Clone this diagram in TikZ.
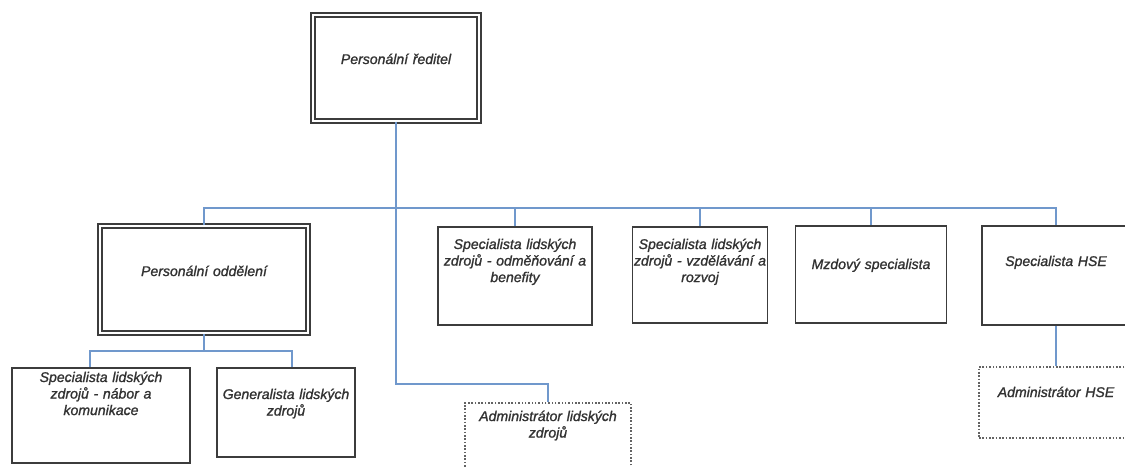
\documentclass[tikz,border=0pt]{standalone}
\usepackage{fontspec}
\setmainfont[ItalicFeatures={FakeBold=1.2}]{Liberation Sans}
\usepackage{tikz}
\usetikzlibrary{calc}
\definecolor{orgline}{RGB}{112,152,204}
\definecolor{orgtext}{RGB}{50,50,50}
\definecolor{orgframe}{RGB}{60,60,60}
\tikzset{
  %% ---- boxes ----
  post/.style    = {rectangle, draw=orgframe, line width=0.9pt,
                    fill=white, text width=#1, align=center,
                    inner sep=0pt, text=orgtext,
                    font=\fontsize{8}{9.4}\selectfont\itshape},
  post/.default  = 3cm,
  headpost/.style = {post=#1, double=white, double distance=1.6pt,
                    line width=0.7pt},
  headpost/.default = 3cm,
  adminpost/.style = {post=#1, draw=orgframe!80, densely dotted,
                    line width=0.9pt},
  adminpost/.default = 3cm,
  %% ---- connectors ----
  link/.style    = {draw=orgline, line width=0.8pt},
}
\begin{document}
\begin{tikzpicture}

  \path[use as bounding box, clip] (0,0) rectangle (22.5,-9.32);

  %% Director
  \node[headpost=3.32cm, text height=0.98cm, text depth=1.14cm]
    (dir) at (7.92,-1.36) {Personální ředitel};

  %% Second level
  \node[headpost=4.16cm, text height=1.0cm, text depth=1.14cm]
    (odd) at (4.08,-5.59) {Personální oddělení};
  \node[post=3.08cm, text height=0.44cm, text depth=1.52cm]
    (odm) at (10.3,-5.52) {Specialista lidských\\zdrojů - odměňování a\\benefity};
  \node[post=2.7cm, text height=0.44cm, text depth=1.48cm]
    (vzd) at (14.0,-5.5) {Specialista lidských\\zdrojů - vzdělávání a\\rozvoj};
  \node[post=3.02cm, text height=0.86cm, text depth=1.08cm]
    (mzd) at (17.42,-5.49) {Mzdový specialista};
  \node[post=2.96cm, text height=0.8cm, text depth=1.18cm]
    (hse) at (21.12,-5.51) {Specialista HSE};

  %% Third level
  \node[post=3.56cm, text height=0.28cm, text depth=1.62cm]
    (nab) at (2.02,-8.31) {Specialista lidských\\zdrojů - nábor a\\komunikace};
  \node[post=2.76cm, text height=0.62cm, text depth=1.16cm]
    (gen) at (5.72,-8.25) {Generalista lidských\\zdrojů};
  \node[adminpost=3.32cm, text height=0.36cm, text depth=1.24cm]
    (admlz) at (10.96,-8.86) {Administrátor lidských\\zdrojů};
  \node[adminpost=3.08cm, text height=0.6cm, text depth=0.82cm]
    (admhse) at (21.12,-8.05) {Administrátor HSE};

  %% Connectors
  \coordinate (bus)  at (7.92,-4.16);
  \coordinate (kink) at (7.92,-7.68);
  \coordinate (sub)  at (4.08,-7.02);

  \draw[link] (dir.south) -- (kink) -| (admlz.north);
  \draw[link] (odd.north) |- (bus) -| (hse.north);
  \draw[link] (odm.north) -- (odm.north |- bus);
  \draw[link] (vzd.north) -- (vzd.north |- bus);
  \draw[link] (mzd.north) -- (mzd.north |- bus);
  \draw[link] (hse.south) -- (admhse.north);
  \draw[link] (odd.south) -- (sub);
  \draw[link] ([xshift=-0.22cm]nab.north) |- (sub)
              -| ([xshift=0.12cm]gen.north);

\end{tikzpicture}
\end{document}
